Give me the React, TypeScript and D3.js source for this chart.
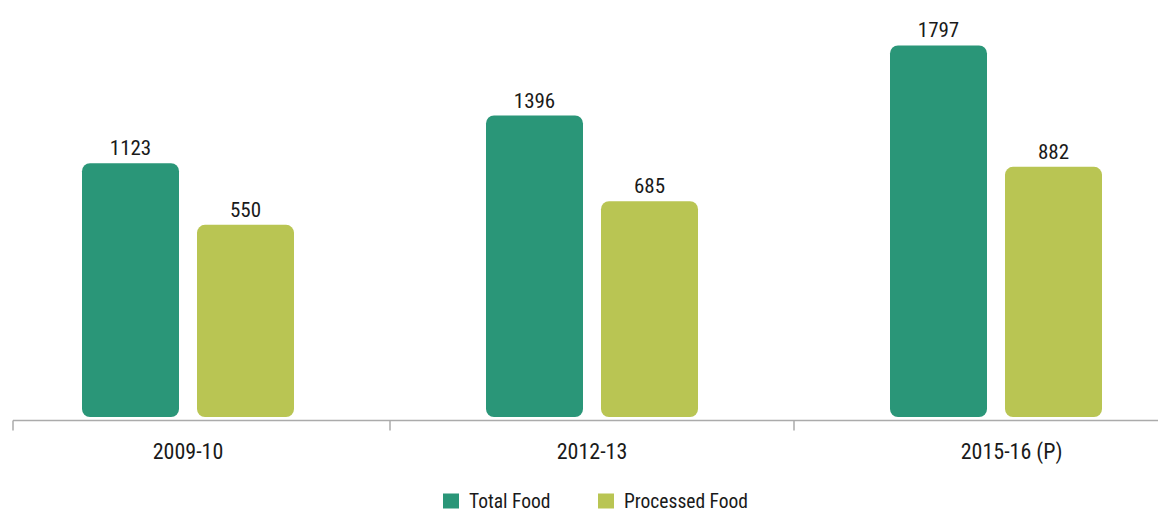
import React, { useEffect, useRef } from "react";
import * as d3 from "d3";

const categories = ["2009-10", "2012-13", "2015-16 (P)"];
const seriesNames = ["Total Food", "Processed Food"];
const totalFood = [1123, 1396, 1797];
const processedFood = [550, 685, 882];
const seriesColors = ["#2a9678", "#b9c553"];
// dual hidden value axes (each series has its own minimum)
const totalDomain = [-330, 2000];
const processedDomain = [-550, 1780];

const W = 1158;
const H = 513;
const FONT = "'Liberation Sans Narrow', 'Roboto Condensed', 'DejaVu Sans Condensed', 'Arial Narrow', sans-serif";

export default function App() {
  const ref = useRef<SVGSVGElement | null>(null);

  useEffect(() => {
    const svg = d3.select(ref.current);
    svg.selectAll("*").remove();

    const baseY = 417;
    const axisY = 420.5;
    const x = d3.scalePoint<string>().domain(categories).range([188, 996]);
    const xInner = d3.scaleBand<string>().domain(seriesNames).range([-106, 106]).paddingInner(18 / 115);
    const yScales = [
      d3.scaleLinear().domain(totalDomain).range([baseY, 10]),
      d3.scaleLinear().domain(processedDomain).range([baseY, 10]),
    ];
    const seriesValues = [totalFood, processedFood];

    const g = svg.append("g");

    // bars
    seriesNames.forEach((name, si) => {
      const y = yScales[si];
      const vals = seriesValues[si];
      const gs = g.append("g");
      gs.selectAll("rect")
        .data(categories)
        .join("rect")
        .attr("x", (c) => (x(c) as number) + (xInner(name) as number))
        .attr("y", (c, i) => y(vals[i]))
        .attr("width", xInner.bandwidth())
        .attr("height", (c, i) => baseY - y(vals[i]))
        .attr("rx", 8)
        .attr("ry", 8)
        .attr("fill", seriesColors[si]);
      gs.selectAll("text")
        .data(categories)
        .join("text")
        .attr("x", (c) => (x(c) as number) + (xInner(name) as number) + xInner.bandwidth() / 2)
        .attr("y", (c, i) => y(vals[i]) - 8)
        .attr("text-anchor", "middle")
        .attr("font-family", FONT)
        .attr("font-size", 21)
        .attr("fill", "#1a1a1a")
        .text((c, i) => String(vals[i]));
    });

    // axis
    const axisStart = 13;
    const ax = svg.append("g");
    ax.append("line")
      .attr("x1", axisStart).attr("x2", W)
      .attr("y1", axisY).attr("y2", axisY)
      .attr("stroke", "#ababab").attr("stroke-width", 1.5);
    const tickXs = [axisStart];
    for (let i = 0; i < categories.length - 1; i++) {
      tickXs.push(((x(categories[i]) as number) + (x(categories[i + 1]) as number)) / 2);
    }
    ax.selectAll("line.tick")
      .data(tickXs)
      .join("line")
      .attr("class", "tick")
      .attr("x1", (d) => d).attr("x2", (d) => d)
      .attr("y1", axisY).attr("y2", axisY + 10)
      .attr("stroke", "#ababab").attr("stroke-width", 1.5);

    const labels = ax.selectAll("text.cat")
      .data(categories)
      .join("text")
      .attr("class", "cat")
      .attr("font-family", FONT)
      .attr("font-size", 22)
      .attr("fill", "#1a1a1a")
      .attr("y", 458.5)
      .attr("text-anchor", "start")
      .text((c) => c);
    labels.each(function (c) {
      const el = this as SVGTextElement;
      const idx = c.indexOf(" (");
      const n = idx >= 0 ? idx : c.length;
      let w = 0;
      try {
        w = el.getSubStringLength(0, n);
      } catch (e) {
        w = el.getComputedTextLength();
      }
      d3.select(el).attr("x", (x(c) as number) - w / 2);
    });

    // legend
    const lg = svg.append("g");
    const legendX = [443, 598];
    seriesNames.forEach((name, i) => {
      lg.append("rect")
        .attr("x", legendX[i]).attr("y", 493.5)
        .attr("width", 16).attr("height", 15)
        .attr("fill", seriesColors[i]);
      lg.append("text")
        .attr("x", legendX[i] + 26).attr("y", 507.5)
        .attr("font-family", FONT)
        .attr("font-size", 19.5)
        .attr("fill", "#1a1a1a")
        .text(name);
    });
  }, []);

  return (
    <svg
      ref={ref}
      width={W}
      height={H}
      style={{ position: "absolute", left: 0, top: 0, display: "block", background: "#fff" }}
    />
  );
}
